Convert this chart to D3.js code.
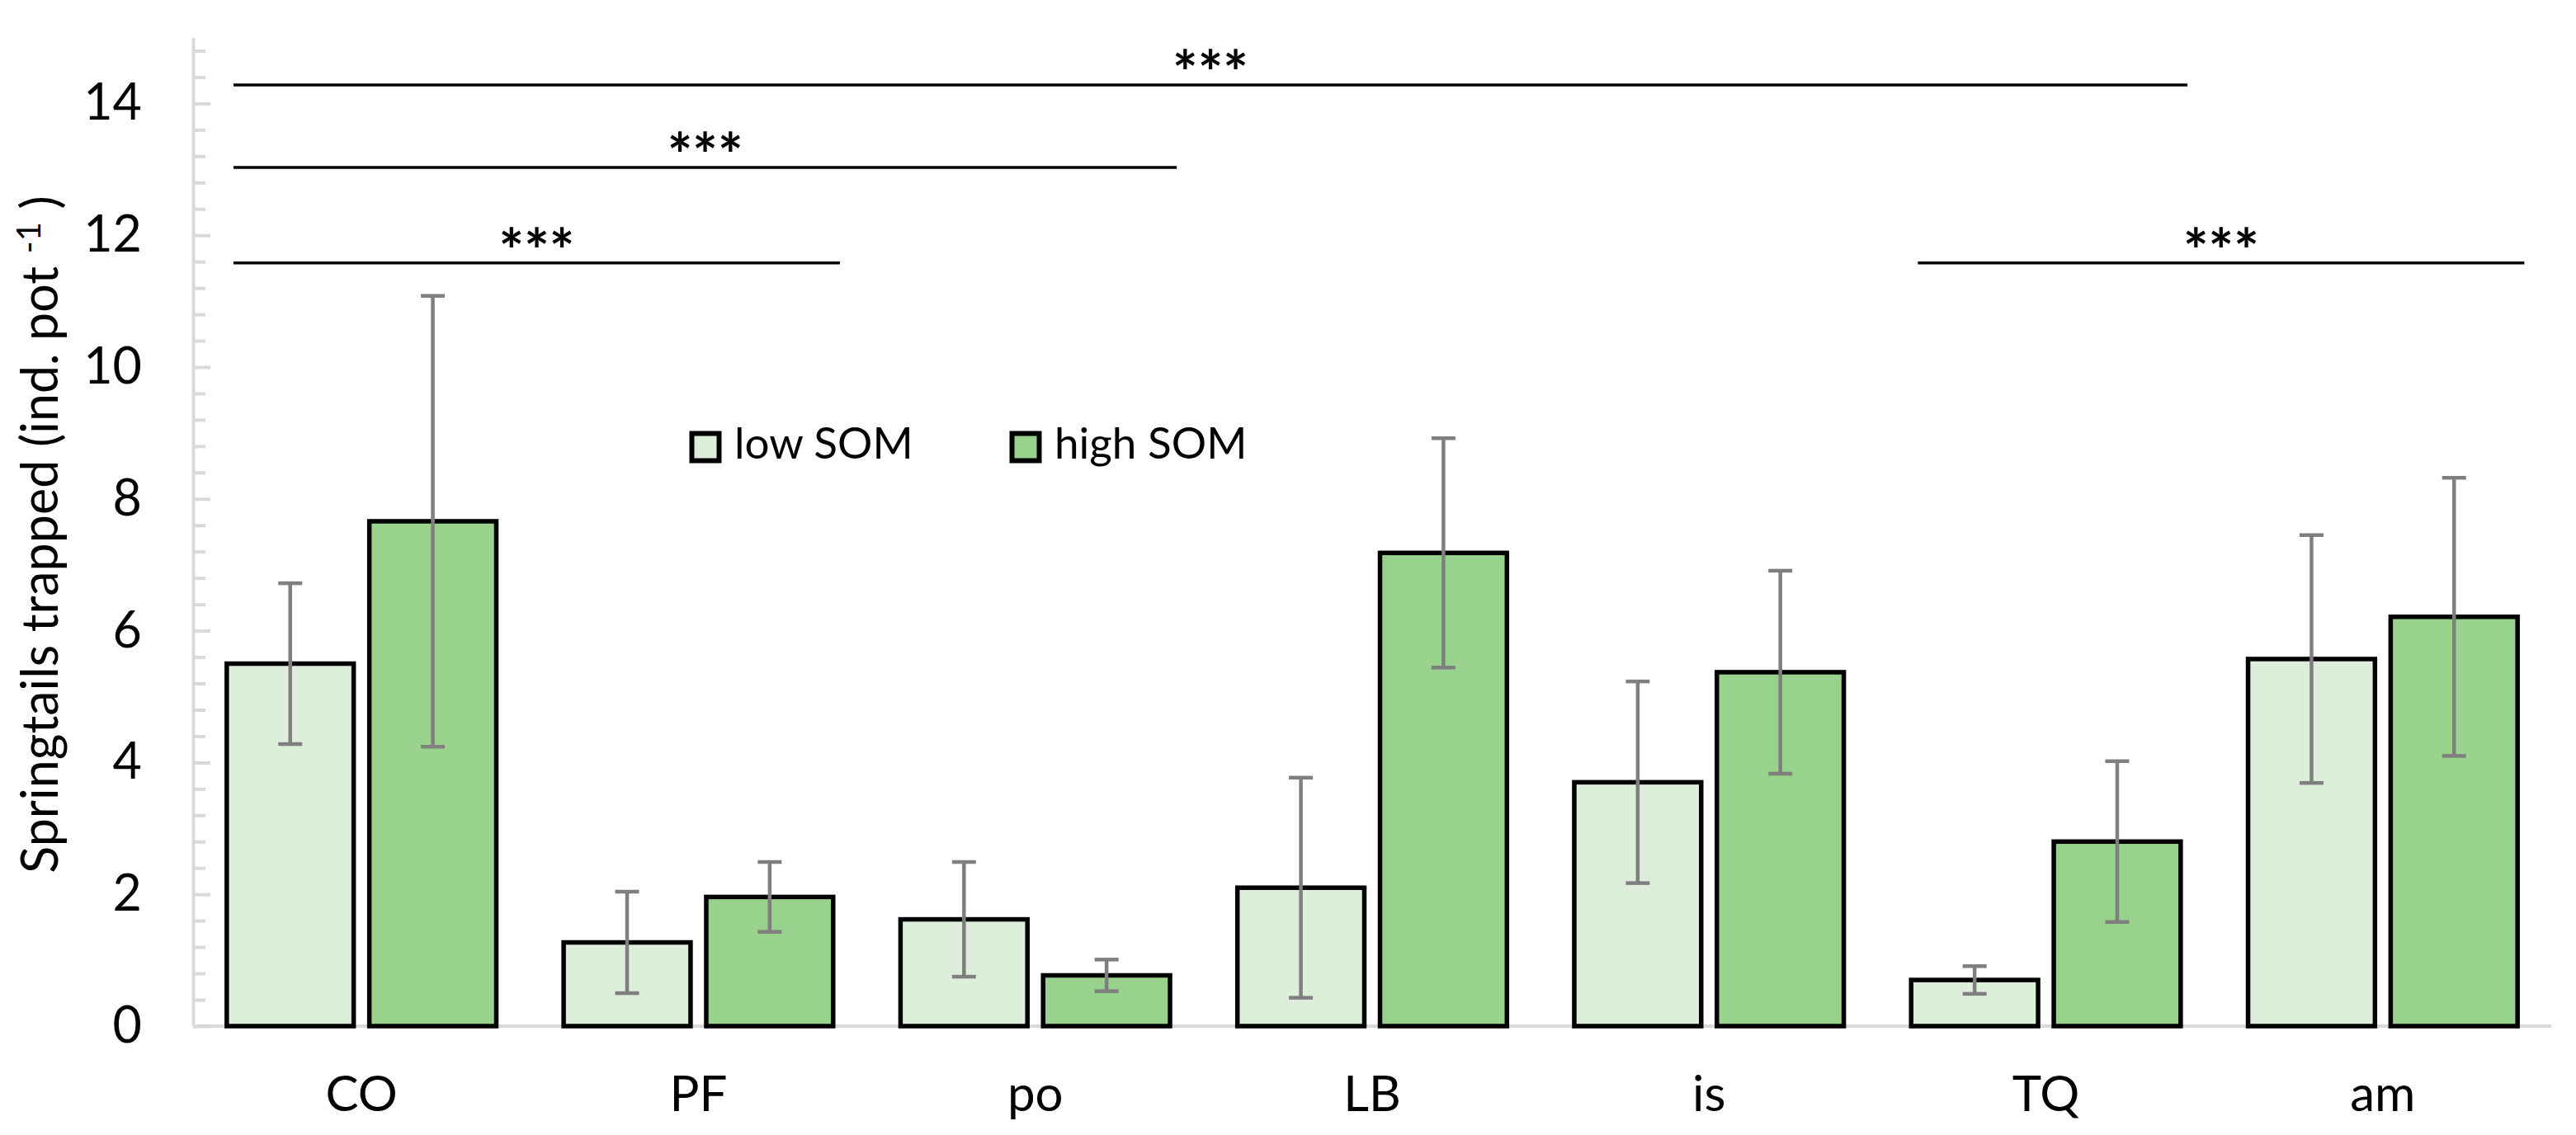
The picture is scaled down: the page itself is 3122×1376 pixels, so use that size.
<!DOCTYPE html>
<html>
<head>
<meta charset="utf-8">
<script src="https://cdn.jsdelivr.net/npm/d3@7"></script>
<style>
  html, body { margin: 0; padding: 0; background: #ffffff; }
  svg { display: block; }
  text { font-family: Lato, "Open Sans", sans-serif; fill: #000; }
</style>
</head>
<body>
<svg id="chart" width="3122" height="1376"></svg>
<script>
// ---------------- data ----------------
const categories = ["CO", "PF", "po", "LB", "is", "TQ", "am"];
const seriesNames = ["low SOM", "high SOM"];
const lowSOM     = [5.50, 1.27, 1.62, 2.10, 3.70, 0.70, 5.57];
const lowSOMErr  = [1.22, 0.77, 0.87, 1.67, 1.53, 0.21, 1.88];
const highSOM    = [7.66, 1.96, 0.77, 7.18, 5.37, 2.80, 6.21];
const highSOMErr = [3.42, 0.53, 0.24, 1.74, 1.54, 1.22, 2.11];
const yMajorTicks = [0, 2, 4, 6, 8, 10, 12, 14];
const yMinorStep = 0.4;
const yMax = 15;
// significance brackets
const sigFrom  = ["CO", "CO", "CO", "TQ"];
const sigTo    = ["PF", "po", "TQ", "am"];
const sigLevel = [11.58, 13.03, 14.28, 11.58];
const sigLabel = ["***", "***", "***", "***"];
const yTitle = "Springtails trapped  (ind. pot";
const yTitleSup = "-1";

// ---------------- layout ----------------
const colors = ["#ddefda", "#98d28c"];
const svg = d3.select("#chart");
const plotLeft = 234, plotRight = 3092, plotBottom = 1244;
const y = d3.scaleLinear().domain([0, yMax]).range([plotBottom, plotBottom - 79.9 * yMax]);
const x0 = d3.scaleBand().domain(categories).range([plotLeft, plotRight])
  .paddingInner(0.2).paddingOuter(0.1);
const x1 = d3.scaleBand().domain(seriesNames).range([0, x0.bandwidth()]).paddingInner(0.11);

const rows = categories.map((c, i) => ({
  cat: c,
  vals: [
    { s: seriesNames[0], v: lowSOM[i], e: lowSOMErr[i], c: colors[0] },
    { s: seriesNames[1], v: highSOM[i], e: highSOMErr[i], c: colors[1] }
  ]
}));

// ---------------- y axis ----------------
const minorTicks = d3.range(0, yMax + 1e-9, yMinorStep).filter(v => Math.abs(v / 2 - Math.round(v / 2)) > 1e-6);
const yMinor = svg.append("g").attr("transform", `translate(${plotLeft},0)`)
  .call(d3.axisLeft(y).tickValues(minorTicks).tickSizeInner(-15).tickSizeOuter(0).tickFormat(""));
yMinor.select(".domain").remove();
yMinor.selectAll(".tick line").attr("stroke", "#d9d9d9").attr("stroke-width", 4);

const yAxis = svg.append("g").attr("transform", `translate(${plotLeft},0)`)
  .call(d3.axisLeft(y).tickValues(yMajorTicks).tickSizeInner(-21).tickSizeOuter(0).tickPadding(62));
yAxis.select(".domain").attr("stroke", "#d9d9d9").attr("stroke-width", 4);
yAxis.selectAll(".tick line").attr("stroke", "#d9d9d9").attr("stroke-width", 4);
yAxis.selectAll(".tick text").attr("font-size", 61).attr("font-family", "Lato, sans-serif").attr("fill", "#000");

// ---------------- x axis ----------------
const xAxis = svg.append("g").attr("transform", `translate(0,${plotBottom})`)
  .call(d3.axisBottom(x0).tickSize(0).tickPadding(60));
xAxis.select(".domain").attr("stroke", "#d9d9d9").attr("stroke-width", 4)
  .attr("d", `M${plotLeft},0H${plotRight}`);
xAxis.selectAll(".tick text").attr("font-size", 60).attr("font-family", "Lato, sans-serif").attr("fill", "#000");

// ---------------- bars ----------------
const groups = svg.append("g").selectAll("g").data(rows).join("g")
  .attr("transform", d => `translate(${x0(d.cat)},0)`);
groups.selectAll("rect").data(d => d.vals).join("rect")
  .attr("x", d => x1(d.s))
  .attr("width", x1.bandwidth())
  .attr("y", d => y(d.v))
  .attr("height", d => y(0) - y(d.v))
  .attr("fill", d => d.c)
  .attr("stroke", "#000")
  .attr("stroke-width", 5.5)
  .attr("stroke-linejoin", "miter");

// error bars
const capW = 29;
const eb = groups.selectAll("g.err").data(d => d.vals).join("g").attr("class", "err")
  .attr("stroke", "#7f7f7f").attr("stroke-width", 4.5);
eb.append("line")
  .attr("x1", d => x1(d.s) + x1.bandwidth() / 2).attr("x2", d => x1(d.s) + x1.bandwidth() / 2)
  .attr("y1", d => y(d.v + d.e)).attr("y2", d => y(d.v - d.e));
eb.append("line")
  .attr("x1", d => x1(d.s) + x1.bandwidth() / 2 - capW / 2).attr("x2", d => x1(d.s) + x1.bandwidth() / 2 + capW / 2)
  .attr("y1", d => y(d.v + d.e)).attr("y2", d => y(d.v + d.e));
eb.append("line")
  .attr("x1", d => x1(d.s) + x1.bandwidth() / 2 - capW / 2).attr("x2", d => x1(d.s) + x1.bandwidth() / 2 + capW / 2)
  .attr("y1", d => y(d.v - d.e)).attr("y2", d => y(d.v - d.e));

// ---------------- significance brackets ----------------
const sig = sigFrom.map((f, i) => ({ from: f, to: sigTo[i], level: sigLevel[i], label: sigLabel[i] }));
const step = x0.step();
const sigG = svg.append("g").selectAll("g").data(sig).join("g");
sigG.append("line")
  .attr("x1", d => x0(d.from) + 0.02 * step)
  .attr("x2", d => x0(d.to) + x0.bandwidth() + 0.02 * step)
  .attr("y1", d => y(d.level)).attr("y2", d => y(d.level))
  .attr("stroke", "#000").attr("stroke-width", 3.5);
sigG.append("text")
  .attr("x", d => (x0(d.from) + 0.02 * step + x0(d.to) + x0.bandwidth() + 0.02 * step) / 2)
  .attr("y", d => y(d.level) + 12)
  .attr("text-anchor", "middle")
  .attr("font-size", 72)
  .attr("font-weight", 700)
  .text(d => d.label);

// ---------------- legend ----------------
const legendX = [836, 1224];
const legend = svg.append("g").selectAll("g").data(seriesNames).join("g")
  .attr("transform", (d, i) => `translate(${legendX[i]},523)`);
legend.append("rect").attr("x", 2.5).attr("y", 2.5).attr("width", 33).attr("height", 33)
  .attr("fill", (d, i) => colors[i]).attr("stroke", "#000").attr("stroke-width", 6);
legend.append("text").attr("x", 54).attr("y", 33).attr("font-size", 53).text(d => d);

// ---------------- y title ----------------
const yt = svg.append("text")
  .attr("transform", "translate(70,648) rotate(-90)")
  .attr("text-anchor", "middle")
  .attr("font-size", 61);
yt.append("tspan").text(yTitle + " ");
yt.append("tspan").attr("font-size", 40).attr("dy", -21).text(yTitleSup);
yt.append("tspan").attr("dy", 21).text(" )");
</script>
</body>
</html>
